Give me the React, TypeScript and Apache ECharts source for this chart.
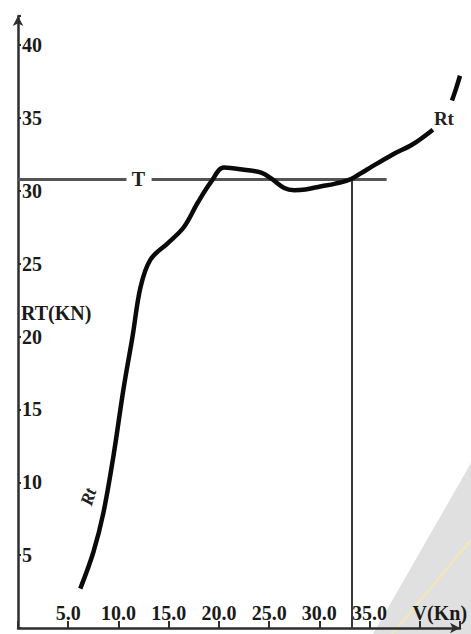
import React, { useEffect, useRef } from "react";
import * as echarts from "echarts";

const rtCurve: [number, number][] = [
  [6.2, 2.7], [7.5, 5.2], [8.5, 7.9], [9.5, 11.8], [10.5, 16.4], [11.4, 20.0],
  [12.2, 23.4], [13.2, 25.3], [14.9, 26.4], [16.5, 27.5], [17.9, 29.2],
  [19.2, 30.6], [20.5, 31.6], [22.5, 31.45], [24.2, 31.25], [25.3, 30.8],
  [26.5, 30.2], [27.5, 30.05], [28.6, 30.1], [30.1, 30.3], [31.6, 30.5],
  [33.1, 30.8], [34.6, 31.4], [37.3, 32.5], [39.3, 33.2], [41.3, 34.2],
];
const rtTail: [number, number][] = [[43.2, 36.2], [43.6, 37.0], [44.0, 37.9]];
const tValue = 30.8;
const tLineEnd = 36.7;
const tGap: [number, number] = [10.8, 13.3];
const tLabelX = 12.0;
const crossV = 33.2;
const xTicks = [5, 10, 15, 20, 25, 30, 35, 40];
const xTickLabels = ["5.0", "10.0", "15.0", "20.0", "25.0", "30.0", "35.0", "V(Kn)"];
const yTicks = [5, 10, 15, 20, 25, 30, 35, 40];
const rtLabelLow: [number, number] = [7.0, 9.0];
const rtLabelHigh: [number, number] = [42.4, 35.0];

const FONT = "Liberation Serif";

export default function App() {
  const ref = useRef<HTMLDivElement>(null);
  useEffect(() => {
    if (!ref.current) return;
    const chart = echarts.init(ref.current, undefined, { renderer: "svg" });
    const axisColor = "#2e2e2e";
    chart.setOption({
      animation: false,
      backgroundColor: "#ffffff",
      textStyle: { fontFamily: FONT },
      grid: { left: 18, right: 11, top: 16, bottom: 6, containLabel: false },
      graphic: [
        {
          type: "polygon",
          z: -10,
          shape: { points: [[373, 634], [471, 463], [471, 634]] },
          style: { fill: "#e0e0e0" },
        },
        {
          type: "line",
          z: -9,
          shape: { x1: 392, y1: 634, x2: 471, y2: 540 },
          style: { stroke: "#f3e6b8", lineWidth: 2 },
        },
        {
          type: "text",
          left: 21,
          top: 303,
          style: {
            text: "RT(KN)",
            fontFamily: FONT,
            fontWeight: "bold",
            fontSize: 20,
            fill: "#1a1a1a",
          },
        },
      ],
      xAxis: {
        type: "value",
        min: 0,
        max: 44,
        interval: 5,
        axisLine: {
          show: true,
          symbol: ["none", "arrow"],
          symbolSize: [8, 10],
          lineStyle: { color: axisColor, width: 2.5 },
        },
        axisTick: {
          show: true,
          inside: true,
          length: 7,
          lineStyle: { color: axisColor, width: 2 },
        },
        splitLine: { show: false },
        axisLabel: {
          inside: true,
          margin: 5,
          color: "#1a1a1a",
          fontFamily: FONT,
          fontWeight: "bold",
          fontSize: 20,
          formatter: (v: number) => {
            const i = xTicks.indexOf(v);
            if (i < 0) return "";
            if (v === 40) return "{v|" + xTickLabels[i] + "}";
            return xTickLabels[i];
          },
          rich: {
            v: {
              fontFamily: FONT,
              fontWeight: "bold",
              fontSize: 20,
              color: "#1a1a1a",
              padding: [0, 0, 0, 40],
            },
          },
        },
      },
      yAxis: {
        type: "value",
        min: 0,
        max: 42,
        interval: 5,
        axisLine: {
          show: true,
          symbol: ["none", "arrow"],
          symbolSize: [8, 10],
          lineStyle: { color: axisColor, width: 2.5 },
        },
        axisTick: {
          show: true,
          inside: true,
          length: 3,
          lineStyle: { color: axisColor, width: 2 },
        },
        splitLine: { show: false },
        axisLabel: {
          inside: true,
          margin: 4,
          color: "#1a1a1a",
          fontFamily: FONT,
          fontWeight: "bold",
          fontSize: 20,
          formatter: (v: number) => (yTicks.indexOf(v) >= 0 ? String(v) : ""),
        },
      },
      series: [
        {
          type: "line",
          name: "Rt",
          data: rtCurve,
          smooth: 0.35,
          showSymbol: false,
          lineStyle: { color: "#0a0a0a", width: 4.5 },
          z: 5,
          markLine: {
            silent: true,
            symbol: ["none", "none"],
            label: { show: false },
            lineStyle: { color: "#555555", width: 3, type: "solid" },
            data: [
              [{ coord: [0, tValue] }, { coord: [tGap[0], tValue] }],
              [{ coord: [tGap[1], tValue] }, { coord: [tLineEnd, tValue] }],
              [
                { coord: [crossV, tValue], lineStyle: { color: "#3a3a3a", width: 2 } },
                { coord: [crossV, 0] },
              ],
            ],
          },
          markPoint: {
            silent: true,
            symbol: "circle",
            symbolSize: 0,
            data: [
              {
                coord: [tLabelX, tValue],
                label: {
                  show: true,
                  position: "inside",
                  formatter: "T",
                  fontFamily: FONT,
                  fontWeight: "bold",
                  fontSize: 20,
                  color: "#222222",
                },
              },
              {
                coord: rtLabelHigh,
                label: {
                  show: true,
                  position: "inside",
                  formatter: "Rt",
                  fontFamily: FONT,
                  fontWeight: "bold",
                  fontSize: 19,
                  color: "#222222",
                },
              },
              {
                coord: rtLabelLow,
                label: {
                  show: true,
                  position: "inside",
                  formatter: "Rt",
                  rotate: 72,
                  fontFamily: FONT,
                  fontWeight: "bold",
                  fontStyle: "italic",
                  fontSize: 18,
                  color: "#222222",
                },
              },
            ],
          },
        },
        {
          type: "line",
          name: "RtTail",
          data: rtTail,
          smooth: 0.3,
          showSymbol: false,
          lineStyle: { color: "#0a0a0a", width: 4.5 },
          z: 5,
        },
      ],
    });
    return () => chart.dispose();
  }, []);
  return (
    <div
      ref={ref}
      style={{ position: "absolute", left: 0, top: 0, width: 471, height: 634 }}
    />
  );
}
